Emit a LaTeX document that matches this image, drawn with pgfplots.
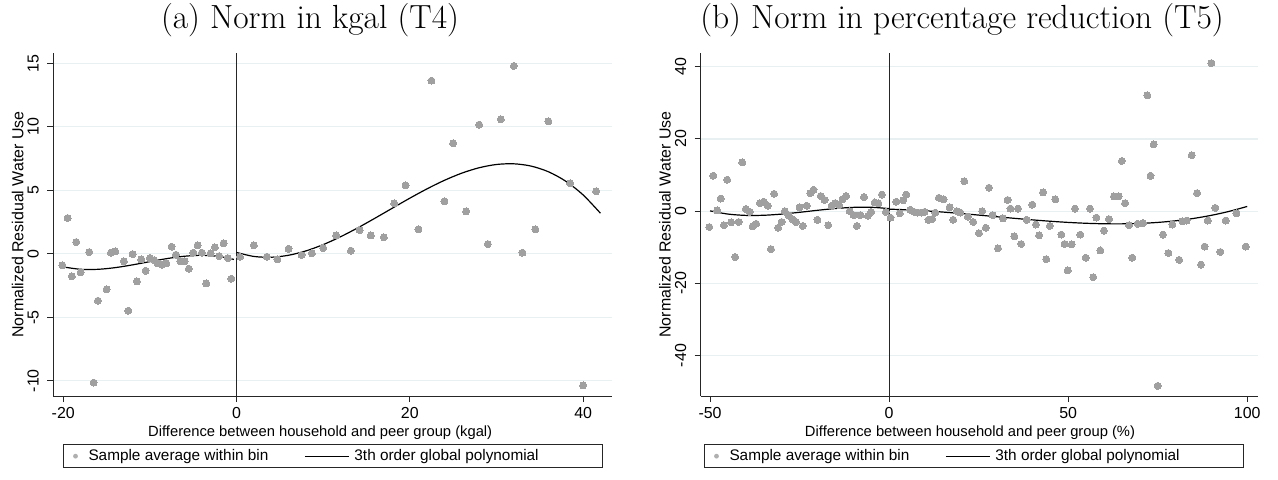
\documentclass[border=0pt]{standalone}
\usepackage{pgfplots}
\pgfplotsset{compat=1.18}
\usepackage{fontspec}
\newfontfamily\sans{Liberation Sans}
\definecolor{markc}{RGB}{160,160,160}
\definecolor{legmarkc}{RGB}{175,175,175}
\definecolor{gridc}{RGB}{232,240,241}

\pgfplotstableread{
x y
-20.1 -0.92
-19.5 2.81
-19.0 -1.78
-18.5 0.92
-18.0 -1.47
-17.0 0.13
-16.5 -10.15
-16.0 -3.70
-15.0 -2.81
-14.5 0.08
-14.0 0.18
-13.0 -0.60
-12.5 -4.49
-12.0 -0.03
-11.5 -2.18
-11.0 -0.45
-10.5 -1.34
-10.0 -0.34
-9.5 -0.50
-9.1 -0.76
-8.6 -0.87
-8.1 -0.76
-7.5 0.55
-7.0 -0.08
-6.5 -0.60
-6.0 -0.60
-5.5 -1.18
-5.0 0.08
-4.5 0.66
-4.0 0.08
-3.5 -2.34
-3.0 0.03
-2.5 0.50
-2.0 -0.18
-1.5 0.81
-1.0 -0.34
-0.6 -1.97
0.4 -0.24
2.0 0.66
3.5 -0.24
4.7 -0.45
6.0 0.39
7.5 -0.10
8.7 0.03
10.0 0.45
11.5 1.44
13.2 0.24
14.2 1.86
15.5 1.44
17.0 1.29
18.2 3.96
19.5 5.38
21.0 1.92
22.5 13.62
24.0 4.12
25.0 8.69
26.5 3.33
28.0 10.16
29.0 0.76
30.5 10.58
32.0 14.78
33.0 0.08
34.5 1.92
36.0 10.42
38.5 5.54
40.0 -10.37
41.5 4.91
}\binsA

\pgfplotstableread{
x y
-20 -1.04
-18 -1.226
-16 -1.228
-14 -1.095
-12 -0.877
-10 -0.622
-8 -0.379
-6 -0.198
-4 -0.126
-2 -0.214
-0.3 -0.45
}\fitAleft

\pgfplotstableread{
x y
0 0.1
2 -0.214
4 -0.277
6 -0.122
8 0.220
10 0.716
12 1.333
14 2.040
16 2.804
18 3.592
20 4.372
22 5.112
24 5.780
26 6.343
28 6.768
30 7.024
32 7.078
34 6.898
36 6.450
38 5.705
40 4.628
42 3.188
}\fitAright

\pgfplotstableread{
x y
-50.2 -4.4
-49.1 9.8
-48.0 0.2
-47.0 3.5
-46.1 -3.9
-45.2 8.7
-44.1 -3.1
-43.0 -12.7
-42.0 -3.0
-41.0 13.5
-40.0 0.6
-38.9 -0.2
-38.1 -4.2
-37.1 -3.5
-36.1 2.2
-35.0 2.6
-33.9 1.5
-33.0 -10.5
-32.1 4.8
-31.0 -4.6
-30.0 -3.0
-29.1 0.0
-28.1 -1.1
-27.0 -2.2
-26.0 -3.0
-25.0 1.1
-24.1 -4.1
-23.0 1.5
-22.0 5.0
-21.1 5.9
-20.0 -2.4
-19.1 4.2
-18.0 3.1
-17.0 -3.9
-16.0 1.5
-15.1 2.2
-14.0 1.7
-13.0 3.3
-12.0 4.2
-11.0 0.0
-9.9 -1.1
-9.0 -4.1
-8.0 -1.1
-7.0 3.9
-5.9 -1.3
-5.0 -0.2
-4.0 2.4
-3.0 2.2
-2.0 4.6
-0.9 -0.2
0.4 -1.8
2.0 2.6
3.0 -0.6
3.9 3.0
4.8 4.6
5.9 0.4
7.0 -0.2
8.0 -0.4
9.0 -0.4
9.9 -0.2
11.0 -2.4
12.0 -2.2
12.9 -0.4
13.9 3.7
15.2 3.3
16.9 1.1
17.9 -2.4
18.9 0.0
19.9 -0.4
21.0 8.3
22.0 -1.5
23.5 -3.0
25.1 -6.1
26.0 0.0
27.0 -4.6
27.9 6.5
28.9 -1.1
30.4 -10.3
31.8 -2.0
33.1 3.1
33.9 0.7
35.0 -7.0
36.0 0.7
36.9 -9.1
38.4 -2.4
40.0 1.8
41.0 -3.7
41.9 -6.7
43.0 5.2
43.9 -13.3
44.9 -4.1
46.4 3.3
48.1 -6.5
49.0 -9.1
49.9 -16.4
51.0 -9.2
51.9 0.7
53.4 -6.5
54.9 -12.9
56.1 0.7
57.0 -18.3
57.9 -1.8
59.0 -10.9
60.0 -5.4
61.4 -2.2
62.8 4.1
64.1 4.1
65.0 13.9
65.9 2.2
67.0 -3.9
67.9 -12.9
69.4 -3.5
70.9 -3.3
72.1 32.1
73.0 9.8
73.9 18.5
75.0 -48.4
76.5 -6.5
78.0 -11.6
79.1 -3.7
81.0 -13.5
81.9 -2.8
83.1 -2.6
84.5 15.5
86.0 5.0
87.1 -14.8
88.1 -9.8
89.0 -2.6
90.0 41.0
91.1 0.9
92.5 -11.3
94.0 -2.6
97.0 -0.6
99.6 -9.8
}\binsB

\pgfplotstableread{
x y
-50 0.08
-45 -0.809
-40 -1.178
-35 -1.143
-30 -0.818
-25 -0.322
-20 0.232
-15 0.727
-10 1.048
-5 1.077
0 0.7
}\fitBleft

\pgfplotstableread{
x y
0 0.55
5 0.369
10 0.096
15 -0.252
20 -0.653
25 -1.089
30 -1.541
35 -1.989
40 -2.415
45 -2.798
50 -3.119
55 -3.360
60 -3.500
65 -3.521
70 -3.403
75 -3.126
80 -2.673
85 -2.022
90 -1.156
95 -0.054
100 1.302
}\fitBright

\pgfplotsset{
  rdstyle/.style={
    scale only axis, anchor=south west,
    height=171.5bp,
    axis x line*=bottom, axis y line*=left,
    axis line style={line width=0.5bp, black!85, -},
    tick align=outside, major tick length=3bp,
    every tick/.style={line width=0.5bp, black!85},
    ymajorgrids, grid style={gridc, line width=0.6bp},
    /pgf/number format/assume math mode=true,
    ticklabel style={font=\sans\fontsize{8}{9.6}\selectfont, inner sep=0pt},
    yticklabel style={rotate=90, anchor=south},
    yticklabel shift=4bp,
    xticklabel shift=2.5bp,
    every axis y label/.style={at={(axis description cs:-0.064,0.5)}, rotate=90, anchor=center, font=\sans\fontsize{8}{9.6}\selectfont},
    legend columns=2,
    legend cell align=left,
    clip=false,
  },
  legstyle/.style={
    legend style={anchor=north west, draw=black!85, line width=0.5bp, fill=white,
      font=\sans\fontsize{7.7}{9}\selectfont, inner xsep=1bp, inner ysep=1.3bp,
      nodes={inner sep=1bp},
      /tikz/every odd column/.append style={column sep=1.5bp},
      /tikz/every even column/.append style={column sep=17bp},
      /tikz/column 3/.append style={column sep=5.5bp}},
  },
  scatleg/.style={legend image code/.code={\path[draw=none,fill=none] (0bp,0bp) rectangle (9bp,0.1bp); \fill[legmarkc, draw=none] (5bp,0bp) circle (1.2bp);}},
  lineleg/.style={legend image code/.code={\draw[black, line width=0.5bp] (0bp,0bp) -- (22bp,0bp);}},
  dots/.style={only marks, color=markc, mark=*, mark size=1.75bp, mark options={fill=markc, draw=markc, line width=0pt}},
}

\begin{document}
\begin{tikzpicture}
\path[use as bounding box] (0,0) rectangle (639bp,240bp);
\node[font=\fontsize{16.8}{20}\selectfont] at (155bp,230bp) {(a) Norm in kgal (T4)};
\node[font=\fontsize{16.8}{20}\selectfont] at (481bp,230bp) {(b) Norm in percentage reduction (T5)};

\begin{axis}[rdstyle, legstyle,
  at={(26.65bp,42bp)}, width=279.2bp,
  xmin=-21.15, xmax=43.3, ymin=-11.2, ymax=15.8,
  xtick={-20,0,20,40}, ytick={-10,-5,0,5,10,15},
  xlabel={Difference between household and peer group (kgal)},
  ylabel={Normalized Residual Water Use},
  every axis x label/.style={at={(axis description cs:0.478,-0.1079)}, anchor=center, font=\sans\fontsize{7.4}{9}\selectfont},
  legend style={at={(axis description cs:0.0174,-0.1400)}},
]
\addplot[forget plot, black!85, line width=0.5bp] coordinates {(0,-11.2) (0,15.8)};
\addplot[dots, scatleg] table[x=x,y=y] {\binsA};
\addlegendentry{Sample average within bin}
\addplot[black, line width=0.6bp, smooth, lineleg] table[x=x,y=y] {\fitAleft};
\addlegendentry{\makebox[122bp][l]{3th order global polynomial}}
\addplot[forget plot, black, line width=0.6bp, smooth] table[x=x,y=y] {\fitAright};
\end{axis}

\begin{axis}[rdstyle, legstyle,
  at={(350.35bp,42bp)}, width=278.8bp,
  xmin=-52.6, xmax=103.1, ymin=-51.2, ymax=43.8,
  xtick={-50,0,50,100}, ytick={-40,-20,0,20,40},
  xlabel={Difference between household and peer group (\%)},
  ylabel={Normalized Residual Water Use},
  every axis x label/.style={at={(axis description cs:0.483,-0.1079)}, anchor=center, font=\sans\fontsize{7.4}{9}\selectfont},
  legend style={at={(axis description cs:0.0059,-0.1400)}},
]
\addplot[forget plot, black!85, line width=0.5bp] coordinates {(0,-51.2) (0,43.8)};
\addplot[dots, scatleg] table[x=x,y=y] {\binsB};
\addlegendentry{Sample average within bin}
\addplot[black, line width=0.6bp, smooth, lineleg] table[x=x,y=y] {\fitBleft};
\addlegendentry{\makebox[122bp][l]{3th order global polynomial}}
\addplot[forget plot, black, line width=0.6bp, smooth] table[x=x,y=y] {\fitBright};
\end{axis}
\end{tikzpicture}
\end{document}
